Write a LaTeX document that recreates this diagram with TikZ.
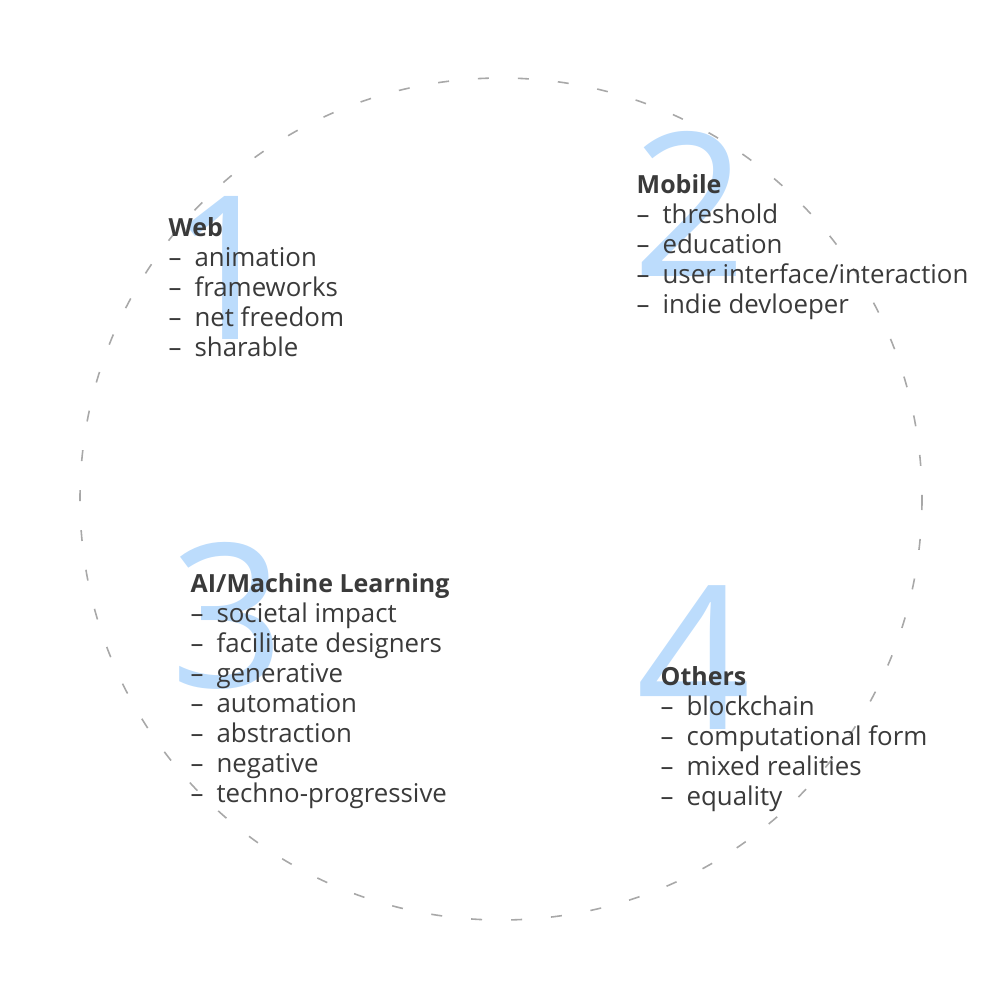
\documentclass[tikz,border=0pt]{standalone}
\usepackage{fontspec}
\setmainfont{Open Sans}
\usepackage{tikz}
\usetikzlibrary{positioning}

\definecolor{numblue}{HTML}{BCDCFC}
\definecolor{textgray}{HTML}{3A3A3A}
\definecolor{ringgray}{HTML}{A8A8A8}

\newcommand{\itm}{–\enspace}
\newcommand{\hd}[1]{{\fontsize{7.1}{8.54}\selectfont\bfseries #1}}

\tikzset{
  bignum/.style={anchor=south west, inner sep=0pt, text=numblue,
    font=\fontsize{57}{57}\selectfont},
  topic/.style={anchor=north west, inner sep=0pt, align=left, text=textgray,
    font=\fontsize{7.35}{8.54}\selectfont},
  ring/.style={draw=ringgray, line width=0.45pt, dash pattern=on 0.11cm off 0.29cm}
}

\begin{document}
\begin{tikzpicture}[x=0.01cm,y=-0.01cm]
\useasboundingbox (0,0) rectangle (1000,1000);
\draw [ring] (501,499) circle (421);

% the four numbers behind the text
\node [bignum] (one) at (168,340) {1};
\node [bignum] (two) at (632,277) {2};
\node [bignum] (three) at (170,690) {3};
\node [bignum] (four) at (636,730) {4};

\node [topic] (web) at (168,217) {\hd{Web}\\
  \itm animation\\
  \itm frameworks\\
  \itm net freedom\\
  \itm sharable};
\node [topic] (mobile) at (636,174) {\hd{Mobile}\\
  \itm threshold\\
  \itm education\\
  \itm user interface/interaction\\
  \itm indie devloeper};
\node [topic] (ml) at (190,573) {\hd{AI/Machine Learning}\\
  \itm societal impact\\
  \itm facilitate designers\\
  \itm generative\\
  \itm automation\\
  \itm abstraction\\
  \itm negative\\
  \itm techno-progressive};
\node [topic] (others) at (660,666) {\hd{Others}\\
  \itm blockchain\\
  \itm computational form\\
  \itm mixed realities\\
  \itm equality};
\end{tikzpicture}
\end{document}
